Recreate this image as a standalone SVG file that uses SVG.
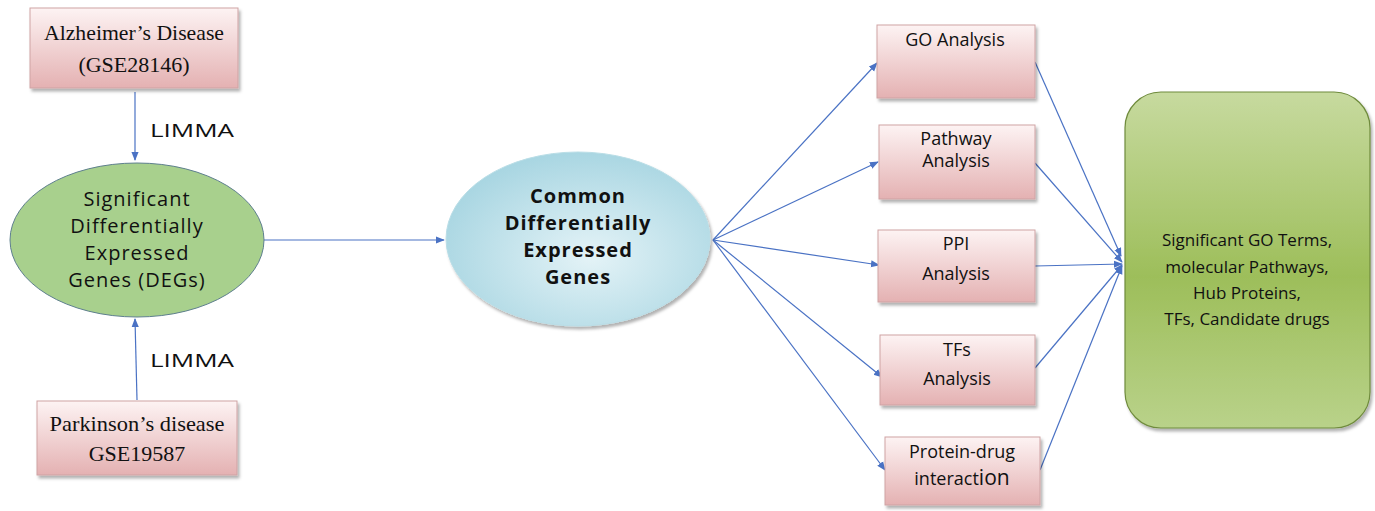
<svg xmlns="http://www.w3.org/2000/svg" width="1375" height="511" viewBox="0 0 1375 511">
<defs>
<linearGradient id="pink" x1="0" y1="0" x2="0" y2="1">
<stop offset="0" stop-color="#fdf3f3"/>
<stop offset="1" stop-color="#e4b1b2"/>
</linearGradient>
<radialGradient id="blue" cx="0.55" cy="0.6" r="0.6">
<stop offset="0" stop-color="#e4f3f7"/>
<stop offset="1" stop-color="#a9d6e2"/>
</radialGradient>
<linearGradient id="green" x1="0" y1="0" x2="0" y2="1">
<stop offset="0" stop-color="#c7da9f"/>
<stop offset="0.55" stop-color="#9dbe5a"/>
<stop offset="1" stop-color="#b9d28a"/>
</linearGradient>
<marker id="ah" viewBox="0 0 10 10" refX="9" refY="5" markerWidth="9" markerHeight="9" markerUnits="userSpaceOnUse" orient="auto">
<path d="M0,1 L10,5 L0,9 z" fill="#4a72c4"/>
</marker>
<filter id="sh" x="-10%" y="-10%" width="125%" height="130%">
<feDropShadow dx="2" dy="3" stdDeviation="1.5" flood-color="#000" flood-opacity="0.3"/>
</filter>
</defs>
<style>
.pbox{fill:url(#pink);stroke:#cfa3a4;stroke-width:1;filter:url(#sh)}
.serif{font-family:"Liberation Serif","DejaVu Serif",serif;font-size:22px;fill:#111;text-anchor:middle}
.sans{font-family:"Open Sans","DejaVu Sans",sans-serif;fill:#111;text-anchor:middle}
.lbl{font-family:"Open Sans","DejaVu Sans",sans-serif;font-size:19px;fill:#111}
.box{font-size:18px}
.ell{font-size:20px;letter-spacing:1px}
.conn line{stroke:#4a72c4;stroke-width:1.2;marker-end:url(#ah)}
</style>

<g id="connectors" class="conn">
<line x1="135" y1="92" x2="135" y2="160"/>
<line x1="137" y1="400" x2="135" y2="319"/>
<line x1="264" y1="240" x2="444" y2="240"/>
<line x1="713" y1="240" x2="877" y2="63"/>
<line x1="713" y1="240" x2="878" y2="162"/>
<line x1="713" y1="240" x2="879" y2="265"/>
<line x1="713" y1="240" x2="882" y2="377"/>
<line x1="713" y1="240" x2="885" y2="470"/>
<line x1="1035" y1="62" x2="1121" y2="256"/>
<line x1="1035" y1="163" x2="1122" y2="262"/>
<line x1="1035" y1="266" x2="1122" y2="264"/>
<line x1="1035" y1="368" x2="1122" y2="265"/>
<line x1="1040" y1="470" x2="1122" y2="266"/>
</g>
<text class="lbl" x="150" y="137" textLength="84" lengthAdjust="spacingAndGlyphs">LIMMA</text>
<text class="lbl" x="150" y="367" textLength="84" lengthAdjust="spacingAndGlyphs">LIMMA</text>

<g id="alzheimers">
<rect class="pbox" x="30" y="8" width="208" height="80"/>
<text class="serif" x="134" y="40" textLength="180" lengthAdjust="spacingAndGlyphs">Alzheimer’s Disease</text>
<text class="serif" x="134" y="72">(GSE28146)</text>
</g>

<g id="sig-degs">
<ellipse cx="137" cy="240" rx="127" ry="77" fill="#a8d08d" stroke="#5e7f8e" stroke-width="1"/>
<text class="sans ell" x="137" y="206">Significant</text>
<text class="sans ell" x="137" y="233">Differentially</text>
<text class="sans ell" x="137" y="260">Expressed</text>
<text class="sans ell" x="137" y="287">Genes (DEGs)</text>
</g>

<g id="parkinsons">
<rect class="pbox" x="37" y="401" width="200" height="74"/>
<text class="serif" x="137" y="431" textLength="175" lengthAdjust="spacingAndGlyphs">Parkinson’s disease</text>
<text class="serif" x="137" y="461">GSE19587</text>
</g>

<g id="common-degs">
<ellipse cx="578" cy="239" rx="132" ry="87" fill="url(#blue)" stroke="#b9dde6" stroke-width="1" filter="url(#sh)"/>
<text class="sans ell" font-weight="bold" x="578" y="203">Common</text>
<text class="sans ell" font-weight="bold" x="578" y="230">Differentially</text>
<text class="sans ell" font-weight="bold" x="578" y="257">Expressed</text>
<text class="sans ell" font-weight="bold" x="578" y="284">Genes</text>
</g>

<g id="go">
<rect class="pbox" x="877" y="25" width="158" height="73"/>
<text class="sans box" x="955" y="46">GO Analysis</text>
</g>

<g id="pathway">
<rect class="pbox" x="879" y="125" width="156" height="74"/>
<text class="sans box" x="956" y="145">Pathway</text>
<text class="sans box" x="956" y="167">Analysis</text>
</g>

<g id="ppi">
<rect class="pbox" x="878" y="230" width="157" height="72"/>
<text class="sans box" x="956" y="250">PPI</text>
<text class="sans box" x="956" y="280">Analysis</text>
</g>

<g id="tfs">
<rect class="pbox" x="880" y="335" width="155" height="70"/>
<text class="sans box" x="957" y="356">TFs</text>
<text class="sans box" x="957" y="385">Analysis</text>
</g>

<g id="protein-drug">
<rect class="pbox" x="885" y="437" width="155" height="68"/>
<text class="sans box" x="962" y="458">Protein-drug</text>
<text class="sans box" x="962" y="485">interact<tspan font-size="21">ion</tspan></text>
</g>

<g id="results">
<rect x="1125" y="92" width="245" height="336" rx="36" ry="36" fill="url(#green)" stroke="#6f8b3c" stroke-width="1.2" filter="url(#sh)"/>
<text class="sans" font-size="17" x="1247" y="246">Significant GO Terms,</text>
<text class="sans" font-size="17" x="1247" y="273">molecular Pathways,</text>
<text class="sans" font-size="17" x="1247" y="299">Hub Proteins,</text>
<text class="sans" font-size="17" x="1247" y="325">TFs, Candidate drugs</text>
</g>
</svg>
